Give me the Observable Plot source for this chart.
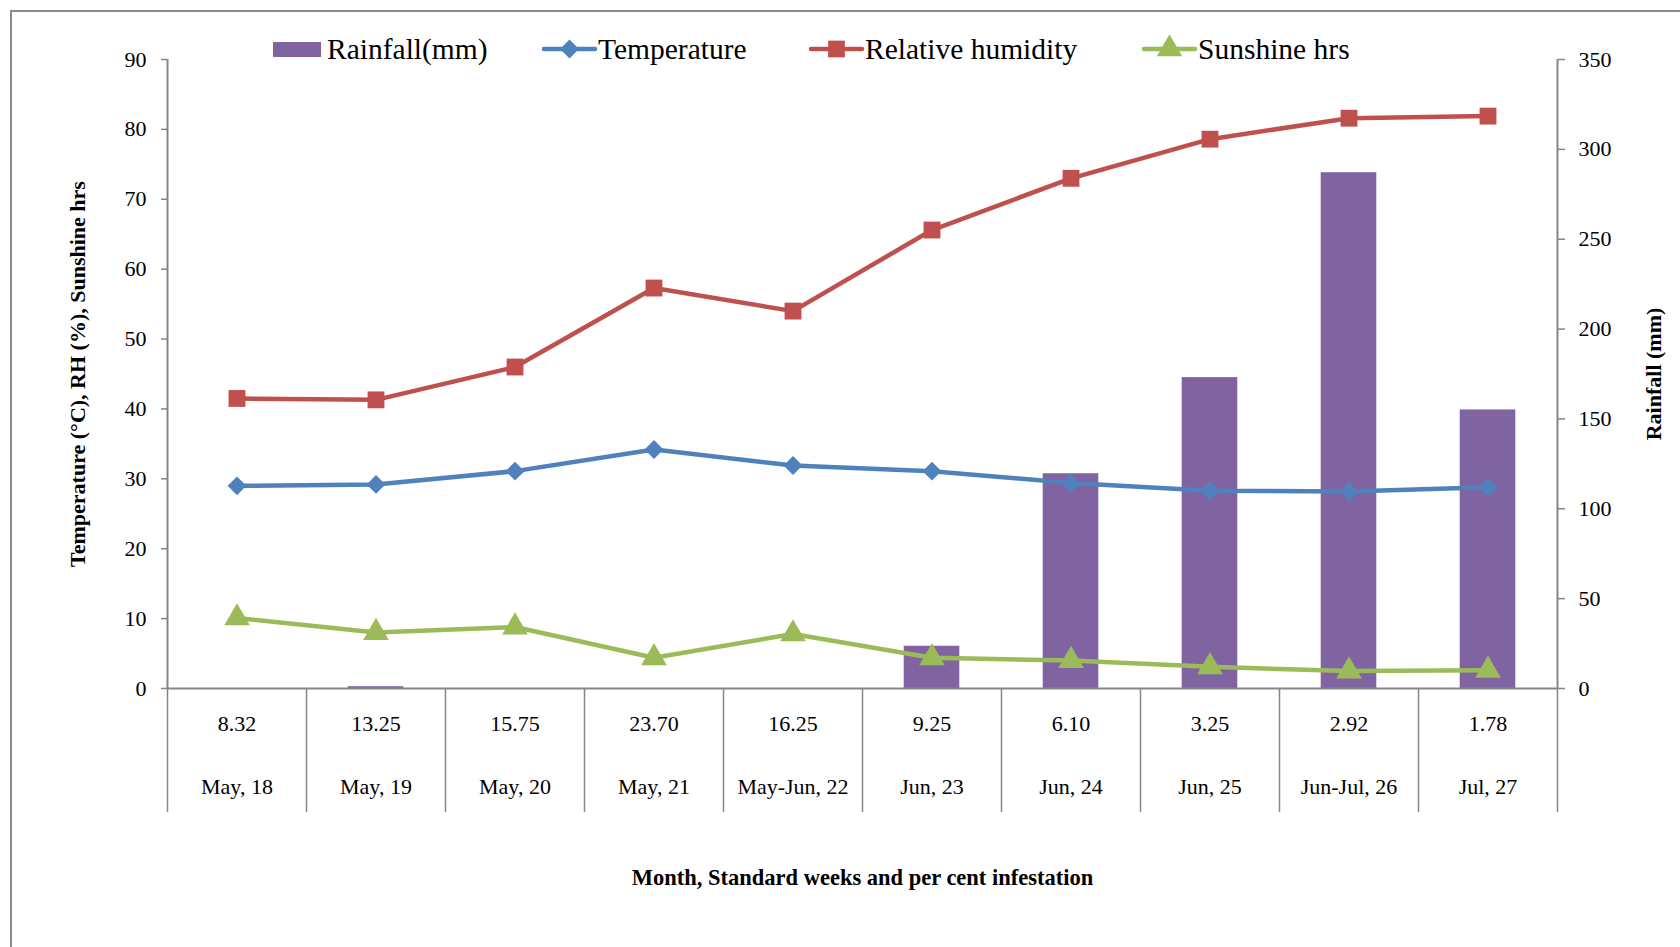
<!DOCTYPE html>
<html>
<head>
<meta charset="utf-8">
<script src="https://cdn.jsdelivr.net/npm/d3@7"></script>
<script src="https://cdn.jsdelivr.net/npm/@observablehq/plot@0.6"></script>
<style>
  html, body { margin: 0; padding: 0; background: #fff; }
  body { width: 1680px; height: 947px; position: relative; overflow: hidden; font-family: "Liberation Serif", "DejaVu Serif", serif; }
  #border { position: absolute; left: 10px; top: 10px; width: 1800px; height: 1000px; border-left: 2px solid #8a8a8a; border-top: 2px solid #8a8a8a; }
  #chart { position: absolute; left: 0; top: 0; }
  #legend { position: absolute; left: 0; top: 0; }
</style>
</head>
<body>
<div id="border"></div>
<div id="chart"></div>
<svg id="legend" width="1680" height="90"></svg>
<script>
// ---- data ----
const weeks = ["May, 18", "May, 19", "May, 20", "May, 21", "May-Jun, 22", "Jun, 23", "Jun, 24", "Jun, 25", "Jun-Jul, 26", "Jul, 27"];
const infestation = ["8.32", "13.25", "15.75", "23.70", "16.25", "9.25", "6.10", "3.25", "2.92", "1.78"];
const rainfall = [0, 1, 0, 0, 0, 23.5, 119.5, 173, 287, 155];
const temperature = [29.0, 29.2, 31.1, 34.2, 31.9, 31.1, 29.4, 28.3, 28.2, 28.8];
const humidity = [41.5, 41.3, 46.0, 57.3, 54.0, 65.6, 73.0, 78.6, 81.6, 81.9];
const sunshine = [10.1, 8.0, 8.8, 4.4, 7.8, 4.4, 4.0, 3.1, 2.5, 2.6];
const leftTicks = [0, 10, 20, 30, 40, 50, 60, 70, 80, 90];
const rightTicks = [0, 50, 100, 150, 200, 250, 300, 350];
const seriesNames = ["Rainfall(mm)", "Temperature", "Relative humidity", "Sunshine hrs"];

const colors = {rain: "#8064A2", temp: "#4F81BD", rh: "#C0504D", sun: "#9BBB59"};
const axisGray = "#868686";
const leftMax = 90, rightMax = 350;
const toLeft = v => v * leftMax / rightMax;

const idx = d3.range(weeks.length);
const font = "Liberation Serif";

const chart = Plot.plot({
  width: 1680,
  height: 947,
  marginLeft: 167,
  marginRight: 123,
  marginTop: 59,
  marginBottom: 259,
  style: {fontFamily: font, fontSize: "22px", color: "black", background: "transparent", overflow: "visible"},
  x: {type: "linear", domain: [0, weeks.length], axis: null},
  y: {domain: [0, leftMax], axis: null},
  marks: [
    // rainfall bars (right axis, mapped to left scale)
    Plot.rectY(idx, {x1: i => i + 0.3, x2: i => i + 0.7, y1: 0, y2: i => toLeft(rainfall[i]), fill: colors.rain}),
    // axis lines
    Plot.ruleY([0], {stroke: axisGray, strokeWidth: 2}),
    Plot.ruleX([0, weeks.length], {stroke: axisGray, strokeWidth: 2}),
    // left axis
    Plot.axisY(leftTicks, {anchor: "left", tickSize: 6, tickPadding: 15, stroke: axisGray, fill: "black", fontSize: 22, label: null, strokeWidth: 1.5}),
    // right axis
    Plot.axisY(rightTicks.map(toLeft), {anchor: "right", tickSize: 7, tickPadding: 14, tickFormat: v => String(Math.round(v * rightMax / leftMax)), stroke: axisGray, fill: "black", fontSize: 22, label: null, strokeWidth: 1.5}),
    // category separators below axis
    Plot.axisX(d3.range(weeks.length + 1), {anchor: "bottom", tickSize: 124, tickFormat: () => "", stroke: axisGray, strokeWidth: 1.5, label: null}),
    // category labels (two rows)
    Plot.text(idx, {x: i => i + 0.5, y: () => 0, dy: 35, text: i => infestation[i], fontSize: 22, lineAnchor: "middle", fill: "black"}),
    Plot.text(idx, {x: i => i + 0.5, y: () => 0, dy: 98, text: i => weeks[i], fontSize: 22, lineAnchor: "middle", fill: "black"}),
    // lines
    Plot.line(idx, {x: i => i + 0.5, y: i => humidity[i], stroke: colors.rh, strokeWidth: 4.5}),
    Plot.dot(idx, {x: i => i + 0.5, y: i => humidity[i], symbol: "square", r: 9.5, fill: colors.rh}),
    Plot.line(idx, {x: i => i + 0.5, y: i => temperature[i], stroke: colors.temp, strokeWidth: 4.5}),
    Plot.dot(idx, {x: i => i + 0.5, y: i => temperature[i], symbol: "diamond2", r: 8.5, fill: colors.temp}),
    Plot.line(idx, {x: i => i + 0.5, y: i => sunshine[i], stroke: colors.sun, strokeWidth: 4.5}),
    Plot.dot(idx, {x: i => i + 0.5, y: i => sunshine[i], symbol: "triangle", r: 9.5, fill: colors.sun}),
    // axis titles
    Plot.text(["Temperature (°C), RH (%), Sunshine hrs"], {frameAnchor: "left", textAnchor: "middle", dx: -90, rotate: -90, fontWeight: "bold", fontSize: 22, fill: "black"}),
    Plot.text(["Rainfall (mm)"], {frameAnchor: "right", textAnchor: "middle", dx: 96, rotate: -90, fontWeight: "bold", fontSize: 22, fill: "black"}),
    Plot.text(["Month, Standard weeks and per cent infestation"], {frameAnchor: "bottom", dy: 196, fontWeight: "bold", fontSize: 22.5, fill: "black"})
  ]
});
document.getElementById("chart").appendChild(chart);

// ---- legend ----
const legend = d3.select("#legend");
const legendItems = [
  {name: seriesNames[0], color: colors.rain, kind: "rect", x: 273},
  {name: seriesNames[1], color: colors.temp, kind: "diamond", x: 544},
  {name: seriesNames[2], color: colors.rh, kind: "square", x: 811},
  {name: seriesNames[3], color: colors.sun, kind: "triangle", x: 1144}
];
const ly = 49;
for (const it of legendItems) {
  const g = legend.append("g");
  if (it.kind === "rect") {
    g.append("rect").attr("x", it.x).attr("y", ly - 7).attr("width", 48).attr("height", 15).attr("fill", it.color);
  } else {
    g.append("line").attr("x1", it.x).attr("x2", it.x + 51).attr("y1", ly).attr("y2", ly)
      .attr("stroke", it.color).attr("stroke-width", 4.5).attr("stroke-linecap", "round");
    const sym = it.kind === "diamond" ? d3.symbolDiamond2 : it.kind === "square" ? d3.symbolSquare : d3.symbolTriangle;
    const size = it.kind === "square" ? 280 : it.kind === "diamond" ? 230 : 280;
    g.append("path").attr("d", d3.symbol(sym, size)()).attr("transform", `translate(${it.x + 25.5},${ly})`).attr("fill", it.color);
  }
  g.append("text").attr("x", it.x + 54).attr("y", ly).attr("dy", "0.35em")
    .attr("font-family", font).attr("font-size", 29.5).attr("fill", "black").text(it.name);
}
</script>
</body>
</html>
